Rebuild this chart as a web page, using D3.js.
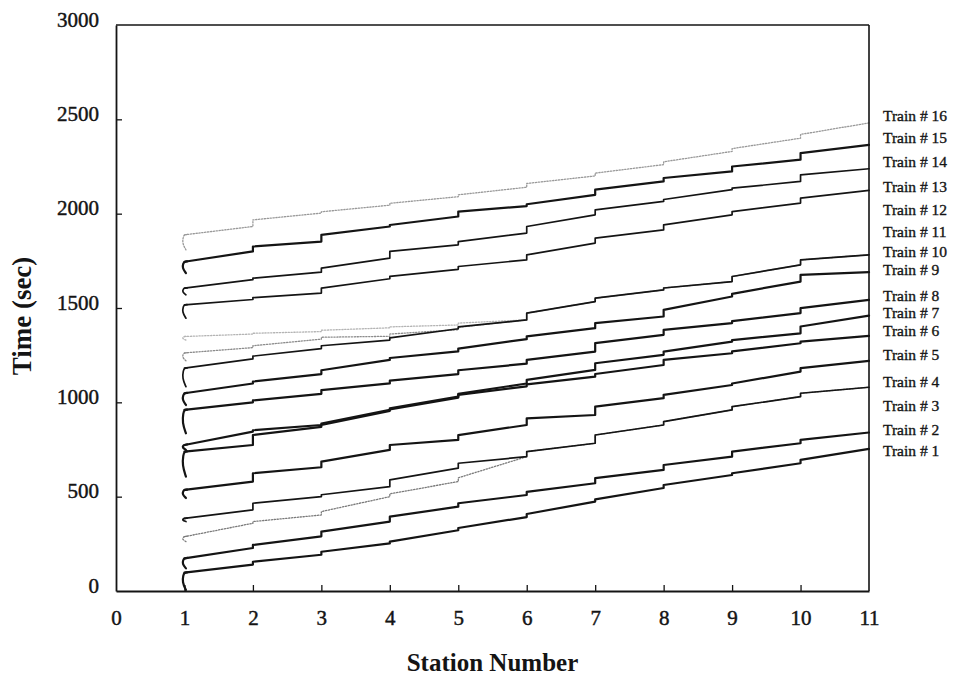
<!DOCTYPE html>
<html>
<head>
<meta charset="utf-8">
<script src="https://cdn.jsdelivr.net/npm/d3@7/dist/d3.min.js"></script>
<style>
  html, body { margin: 0; padding: 0; background: #fff; }
  svg { display: block; }
</style>
</head>
<body>
<svg id="chart" width="954" height="676"></svg>
<script>
// Axis ticks
const xTicks = [0, 1, 2, 3, 4, 5, 6, 7, 8, 9, 10, 11];
const yTicks = [0, 500, 1000, 1500, 2000, 2500, 3000];
const stations = [1, 2, 3, 4, 5, 6, 7, 8, 9, 10, 11];

const trainNames = ["Train # 1", "Train # 2", "Train # 3", "Train # 4", "Train # 5", "Train # 6",
  "Train # 7", "Train # 8", "Train # 9", "Train # 10", "Train # 11", "Train # 12",
  "Train # 13", "Train # 14", "Train # 15", "Train # 16"];

// Time (sec) each train reaches a station (first entry: start of the dwell at station 1)
const arrive = [
  [5, 140, 192, 252, 322, 392, 474, 546, 615, 677, 753],
  [120, 228, 290, 368, 447, 509, 571, 642, 712, 783, 840],
  [262, 359, 403, 500, 580, 712, 783, 880, 960, 1030, 1080],
  [368, 430, 500, 553, 651, 712, 783, 880, 960, 1030, 1080],
  [493, 580, 656, 748, 801, 880, 933, 1022, 1092, 1163, 1220],
  [606, 774, 870, 955, 1025, 1085, 1136, 1198, 1260, 1313, 1352],
  [748, 845, 880, 960, 1030, 1100, 1172, 1252, 1322, 1366, 1460],
  [836, 1000, 1045, 1100, 1150, 1205, 1269, 1358, 1420, 1473, 1543],
  [986, 1100, 1150, 1225, 1270, 1335, 1393, 1455, 1561, 1640, 1690],
  [1083, 1230, 1285, 1330, 1390, 1437, 1534, 1596, 1640, 1729, 1782],
  [1220, 1290, 1335, 1350, 1385, 1437, 1534, 1596, 1640, 1729, 1782],
  [1330, 1362, 1375, 1395, 1410, 1437, 1534, 1596, 1640, 1729, 1782],
  [1446, 1545, 1579, 1655, 1705, 1755, 1844, 1914, 1994, 2056, 2123],
  [1570, 1650, 1690, 1764, 1835, 1897, 1994, 2065, 2127, 2171, 2238],
  [1685, 1800, 1852, 1932, 1985, 2040, 2100, 2171, 2224, 2286, 2365],
  [1808, 1932, 2003, 2045, 2090, 2140, 2200, 2260, 2330, 2400, 2481]
];

// Time (sec) each train leaves stations 1..10
const depart = [
  [97, 155, 208, 262, 334, 408, 486, 562, 624, 695],
  [173, 244, 315, 394, 465, 525, 598, 668, 739, 801],
  [288, 368, 421, 515, 600, 739, 827, 898, 977, 1048],
  [385, 465, 510, 589, 677, 739, 827, 898, 977, 1048],
  [536, 624, 686, 774, 826, 915, 977, 1040, 1100, 1181],
  [739, 827, 880, 962, 1040, 1095, 1150, 1225, 1270, 1322],
  [774, 852, 888, 968, 1045, 1119, 1207, 1269, 1330, 1402],
  [960, 1010, 1065, 1115, 1170, 1225, 1314, 1384, 1430, 1499],
  [1048, 1110, 1170, 1235, 1285, 1350, 1420, 1490, 1575, 1676],
  [1181, 1245, 1300, 1342, 1400, 1473, 1552, 1606, 1667, 1755],
  [1262, 1300, 1345, 1362, 1398, 1473, 1552, 1606, 1667, 1755],
  [1349, 1366, 1382, 1400, 1420, 1473, 1552, 1606, 1667, 1755],
  [1517, 1555, 1605, 1668, 1720, 1782, 1870, 1941, 2011, 2082],
  [1605, 1658, 1711, 1800, 1852, 1932, 2020, 2075, 2135, 2206],
  [1745, 1826, 1888, 1940, 2011, 2050, 2127, 2189, 2250, 2321],
  [1888, 1967, 2010, 2055, 2100, 2160, 2215, 2275, 2345, 2420]
];

// Where each train's name sits along the time axis, right of the plot
const labelTimes = [742, 854, 981, 1109, 1252, 1379, 1474, 1564, 1702, 1798, 1904, 2020, 2142, 2275, 2402, 2519];

// ---- drawing ----
const svg = d3.select("#chart");
const box = { left: 116, right: 869, top: 25, bottom: 591 };

const x = d3.scaleLinear().domain([0, 11]).range([box.left, box.right]);
const y = d3.scaleLinear().domain([0, 3000]).range([box.bottom, box.top]);

const serif = "'Liberation Serif', 'Times New Roman', serif";
const ink = "#141414";

// line styles: dotted grey traces for a few trains, solid black for the rest
const greyTrains = { 2: "#7a7a7a", 10: "#8c8c8c", 11: "#b4b4b4", 15: "#999999" };
const heavyTrains = [0, 1, 4, 5, 6, 7, 8, 14];

const plot = svg.append("g");

const linear = d3.line().x(d => x(d[0])).y(d => y(d[1]));
const smooth = d3.line().curve(d3.curveBasis);

// grey ones first so solid traces stay on top where they overlap
const order = d3.range(trainNames.length).sort((a, b) => (b in greyTrains) - (a in greyTrains));

order.forEach(i => {
  const arr = arrive[i], dep = depart[i];
  const pts = [];
  stations.forEach((s, k) => {
    if (k > 0) pts.push([s, arr[k]]);
    if (k < dep.length) pts.push([s, dep[k]]);
  });
  const grey = greyTrains[i];
  const g = plot.append("g")
    .attr("fill", "none")
    .attr("stroke", grey || ink)
    .attr("stroke-width", grey ? 1.3 : (heavyTrains.includes(i) ? 2.2 : 1.7))
    .attr("stroke-linejoin", "round")
    .attr("stroke-linecap", "round");
  if (grey) g.attr("stroke-dasharray", "1.3,1.6");

  // initial dwell at station 1 drawn as a small hook
  const x1 = x(stations[0]), ya = y(arr[0]), yd = y(dep[0]);
  const h = ya - yd;
  const dx = x(stations[1]) - x1, dy = y(arr[1]) - yd;
  g.append("path").attr("d", smooth([
    [x1 + 1.5, ya],
    [x1 - 2.2, ya - h * 0.45],
    [x1 - 1.2, yd + h * 0.12],
    [x1, yd],
    [x1 + dx * 0.04, yd + dy * 0.04]
  ]));
  g.append("path").attr("d", linear(pts));
});

// frame
const frame = svg.append("g").attr("stroke", ink).attr("stroke-width", 1.6).attr("fill", "none");
frame.append("line").attr("x1", box.left).attr("x2", box.right).attr("y1", box.top).attr("y2", box.top);
frame.append("line").attr("x1", box.right).attr("x2", box.right).attr("y1", box.top).attr("y2", box.bottom);

// axes with inward ticks
const yAxis = svg.append("g")
  .attr("transform", `translate(${box.left},0)`)
  .call(d3.axisLeft(y).tickValues(yTicks).tickFormat(d3.format("d"))
    .tickSizeInner(-6).tickSizeOuter(0).tickPadding(17));
const xAxis = svg.append("g")
  .attr("transform", `translate(0,${box.bottom})`)
  .call(d3.axisBottom(x).tickValues(xTicks).tickFormat(d3.format("d"))
    .tickSizeInner(-6).tickSizeOuter(0).tickPadding(19));

[yAxis, xAxis].forEach(a => {
  a.select(".domain").attr("stroke", ink).attr("stroke-width", 1.8);
  a.selectAll(".tick line").attr("stroke", ink).attr("stroke-width", 1.3);
  a.selectAll(".tick text")
    .attr("fill", ink)
    .attr("stroke", ink)
    .attr("stroke-width", 0.45)
    .style("font-family", serif)
    .style("font-size", "21px");
});
yAxis.selectAll(".tick text").attr("dy", "0.05em");
xAxis.selectAll(".tick line").filter(d => d === 0 || d === 11).remove();
yAxis.selectAll(".tick line").filter(d => d === 0 || d === 3000).remove();

// axis titles
svg.append("text")
  .attr("transform", `translate(31,${(box.top + box.bottom) / 2 + 8}) rotate(-90)`)
  .attr("text-anchor", "middle")
  .attr("fill", ink)
  .style("font-family", serif).style("font-weight", "bold").style("font-size", "27px")
  .text("Time (sec)");

svg.append("text")
  .attr("x", (box.left + box.right) / 2)
  .attr("y", 671)
  .attr("text-anchor", "middle")
  .attr("fill", ink)
  .style("font-family", serif).style("font-weight", "bold").style("font-size", "25px")
  .text("Station Number");

// train names
svg.append("g").selectAll("text")
  .data(trainNames)
  .join("text")
  .attr("x", box.right + 14)
  .attr("y", (d, i) => y(labelTimes[i]))
  .attr("dy", "0.35em")
  .attr("fill", ink)
  .attr("stroke", ink)
  .attr("stroke-width", 0.35)
  .style("font-family", serif)
  .style("font-size", "15.5px")
  .text(d => d);
</script>
</body>
</html>
